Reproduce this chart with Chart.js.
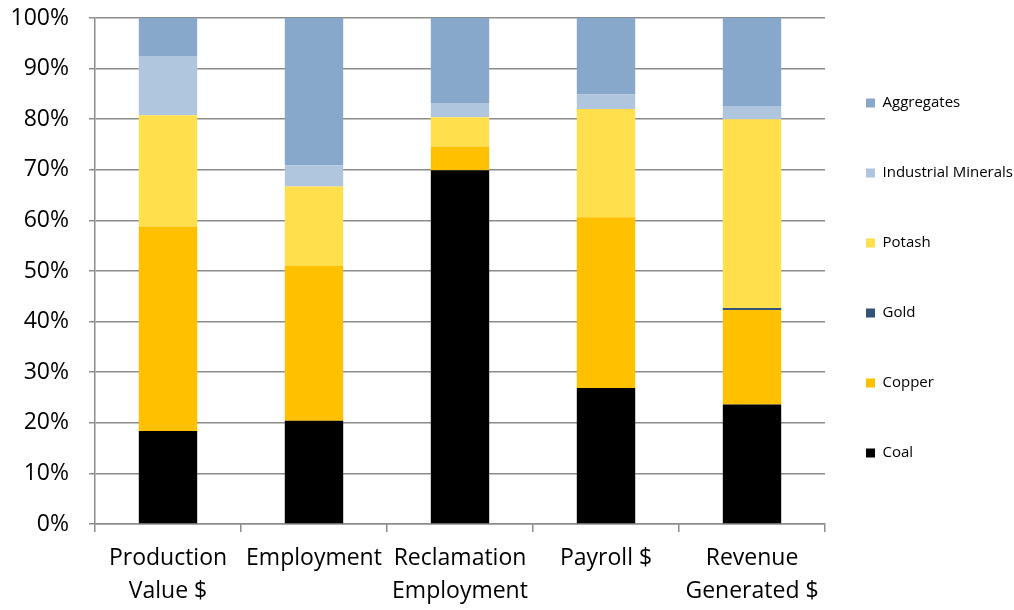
<!DOCTYPE html>
<html>
<head>
<meta charset="utf-8">
<script src="https://cdn.jsdelivr.net/npm/chart.js@4"></script>
<style>
  html, body { margin: 0; padding: 0; background: #fff; }
  #wrap { width: 1014px; height: 610px; }
</style>
</head>
<body>
<div id="wrap"><canvas id="mineChart"></canvas></div>
<script>
// categories and shares (% of total)
const categories = [['Production', 'Value $'], 'Employment', ['Reclamation', 'Employment'], 'Payroll $', ['Revenue', 'Generated $']];
const coal = [18.4, 20.4, 69.9, 26.9, 23.6];
const copper = [40.4, 30.6, 4.7, 33.7, 18.7];
const gold = [0, 0, 0, 0, 0.4];
const potash = [22.0, 15.7, 5.8, 21.4, 37.3];
const industrialMinerals = [11.7, 4.2, 2.8, 2.9, 2.6];
const aggregates = [7.5, 29.1, 16.8, 15.1, 17.4];
const yTicks = [0, 10, 20, 30, 40, 50, 60, 70, 80, 90, 100];

const font = "'Open Sans', 'Liberation Sans', sans-serif";
const gridGray = '#8c8c8c';

function ds(label, data, color) {
  return { label: label, data: data, backgroundColor: color, borderWidth: 0,
           categoryPercentage: 1.0, barPercentage: 0.4 };
}

window.onload = function() {
  const ctx = document.getElementById('mineChart').getContext('2d');
  new Chart(ctx, {
    type: 'bar',
    data: {
      labels: categories,
      datasets: [
        ds('Coal', coal, '#000000'),
        ds('Copper', copper, '#ffc000'),
        ds('Gold', gold, '#335478'),
        ds('Potash', potash, '#ffdf4c'),
        ds('Industrial Minerals', industrialMinerals, '#b0c6de'),
        ds('Aggregates', aggregates, '#88a8cb')
      ]
    },
    options: {
      responsive: true,
      maintainAspectRatio: false,
      animation: false,
      layout: { padding: { top: 0, right: -9, left: 0, bottom: 2 } },
      plugins: {
        tooltip: { enabled: false },
        legend: {
          position: 'right',
          align: 'start',
          reverse: true,
          // empty title only pushes the first row down
          title: { display: true, text: ' ', font: { size: 10 }, padding: { top: 21, bottom: 21.5 } },
          labels: {
            boxWidth: 9,
            boxHeight: 9,
            padding: 41,
            color: '#000',
            font: { family: font, size: 15, lineHeight: '29px' },
            // wrap text in an array so the row height follows font.lineHeight
            generateLabels: function(chart) {
              const items = Chart.defaults.plugins.legend.labels.generateLabels(chart);
              items.forEach(it => { it.text = [it.text]; });
              return items;
            }
          }
        }
      },
      scales: {
        x: {
          stacked: true,
          afterFit: function(scale) { scale.height = 84; },
          grid: { display: true, drawOnChartArea: false, drawTicks: true, tickLength: 8, color: gridGray, lineWidth: 1.5, offset: true },
          border: { display: true, color: gridGray, width: 1.5 },
          ticks: { color: '#000', font: { family: font, size: 23, lineHeight: 1.43 }, maxRotation: 0, autoSkip: false, padding: 10 }
        },
        y: {
          stacked: true,
          min: 0,
          max: 100,
          afterBuildTicks: function(scale) { scale.ticks = yTicks.map(v => ({ value: v })); },
          afterFit: function(scale) { scale.width = 95; scale.paddingTop = 18; },
          grid: { color: gridGray, lineWidth: 1.5, tickLength: 6 },
          border: { display: true, color: gridGray, width: 1.5 },
          ticks: { color: '#000', font: { family: font, size: 23 }, padding: 20, callback: v => v + '%' }
        }
      }
    }
  });
};
</script>
</body>
</html>
